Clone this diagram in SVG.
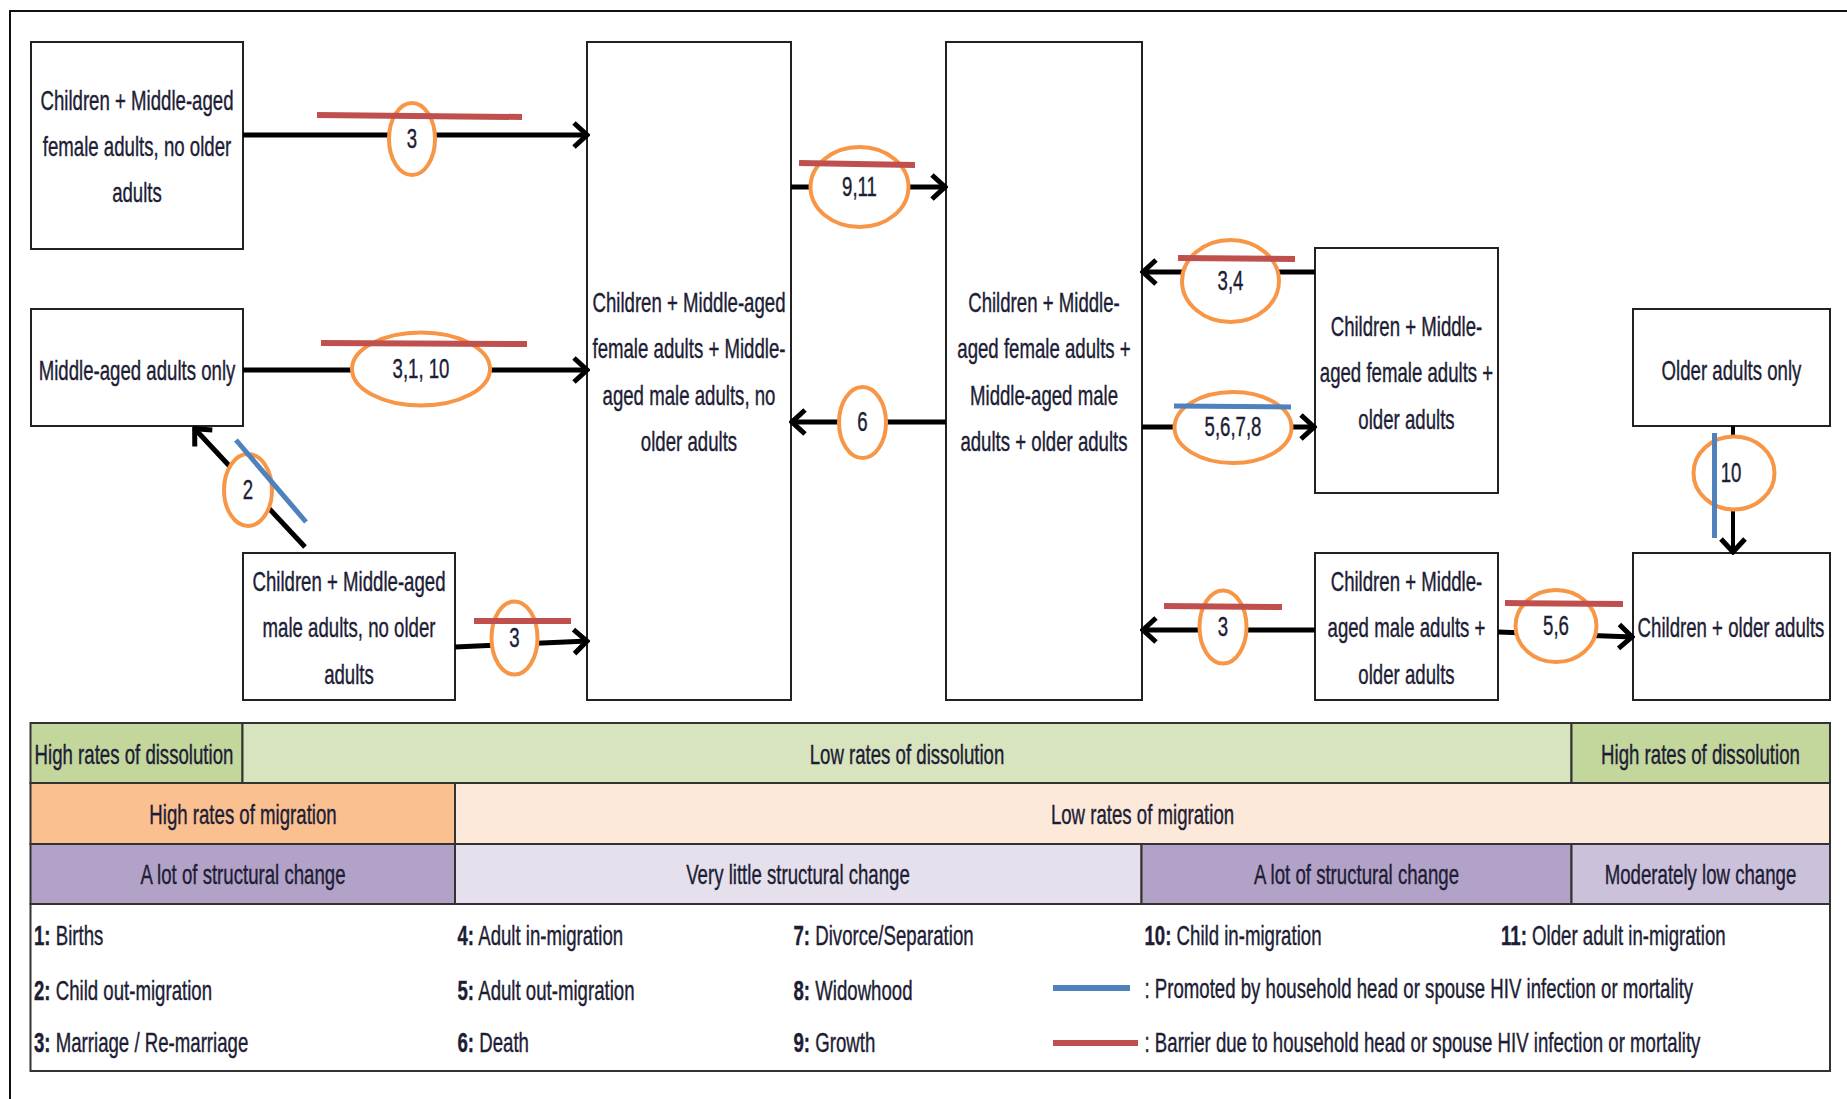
<svg xmlns="http://www.w3.org/2000/svg" width="1847" height="1099" viewBox="0 0 1847 1099">
  <style>
    .t { font-family: "Liberation Sans", Arial, sans-serif; font-size: 27px; fill: #1d1d35; stroke: #1d1d35; stroke-width: 0.4; }
    .c { text-anchor: middle; }
    .b { font-weight: bold; }
    .box { fill: #ffffff; stroke: #222222; stroke-width: 2; }
    .edge { fill: none; stroke: #000000; stroke-width: 5; marker-end: url(#head); }
    .ring { fill: #ffffff; stroke: #F79646; stroke-width: 4; }
    .bar-red { stroke: #C0504D; stroke-width: 6; }
    .bar-blue { stroke: #4F81BD; stroke-width: 5; }
    .cell { stroke: #333333; stroke-width: 2; }
  </style>
  <defs>
    <marker id="head" viewBox="0 0 20 30" refX="18" refY="15" markerWidth="20" markerHeight="30" markerUnits="userSpaceOnUse" orient="auto">
      <path d="M4,3 L17,15 L4,27" fill="none" stroke="#000000" stroke-width="5"/>
    </marker>
  </defs>

  <rect width="1847" height="1099" fill="#ffffff"/>
  <!-- outer frame: top and left edges -->
  <path d="M10,1099 V11 H1847" fill="none" stroke="#111111" stroke-width="2"/>

  <!-- household-type nodes -->
  <g id="node-cmf-no-older">
    <rect class="box" x="31" y="42" width="212" height="207"/>
    <text class="t c" transform="translate(137 110) scale(.69 1)"><tspan x="0">Children + Middle-aged</tspan><tspan x="0" dy="46">female adults, no older</tspan><tspan x="0" dy="46">adults</tspan></text>
  </g>
  <g id="node-middle-aged-only">
    <rect class="box" x="31" y="309" width="212" height="117"/>
    <text class="t c" transform="translate(137 380) scale(.69 1)">Middle-aged adults only</text>
  </g>
  <g id="node-cmm-no-older">
    <rect class="box" x="243" y="553" width="212" height="147"/>
    <text class="t c" transform="translate(349 591) scale(.69 1)"><tspan x="0">Children + Middle-aged</tspan><tspan x="0" dy="46.5">male adults, no older</tspan><tspan x="0" dy="46.5">adults</tspan></text>
  </g>
  <g id="node-cmfm-no-older">
    <rect class="box" x="587" y="42" width="204" height="658"/>
    <text class="t c" transform="translate(689 312) scale(.69 1)"><tspan x="0">Children + Middle-aged</tspan><tspan x="0" dy="46.5">female adults + Middle-</tspan><tspan x="0" dy="46.5">aged male adults, no</tspan><tspan x="0" dy="46.5">older adults</tspan></text>
  </g>
  <g id="node-cmfm-older">
    <rect class="box" x="946" y="42" width="196" height="658"/>
    <text class="t c" transform="translate(1044 312) scale(.69 1)"><tspan x="0">Children + Middle-</tspan><tspan x="0" dy="46.5">aged female adults +</tspan><tspan x="0" dy="46.5">Middle-aged male</tspan><tspan x="0" dy="46.5">adults + older adults</tspan></text>
  </g>
  <g id="node-cmf-older">
    <rect class="box" x="1315" y="248" width="183" height="245"/>
    <text class="t c" transform="translate(1406.5 336) scale(.69 1)"><tspan x="0">Children + Middle-</tspan><tspan x="0" dy="46.5">aged female adults +</tspan><tspan x="0" dy="46.5">older adults</tspan></text>
  </g>
  <g id="node-cmm-older">
    <rect class="box" x="1315" y="553" width="183" height="147"/>
    <text class="t c" transform="translate(1406.5 591) scale(.69 1)"><tspan x="0">Children + Middle-</tspan><tspan x="0" dy="46.5">aged male adults +</tspan><tspan x="0" dy="46.5">older adults</tspan></text>
  </g>
  <g id="node-older-only">
    <rect class="box" x="1633" y="309" width="197" height="117"/>
    <text class="t c" transform="translate(1731.5 380) scale(.69 1)">Older adults only</text>
  </g>
  <g id="node-children-older">
    <rect class="box" x="1633" y="553" width="197" height="147"/>
    <text class="t c" transform="translate(1731 637) scale(.69 1)">Children +  older adults</text>
  </g>

  <!-- transitions between household types -->
  <g id="connectors">
    <line class="edge" x1="243" y1="135" x2="588" y2="135"/>
    <line class="edge" x1="243" y1="370" x2="588" y2="370"/>
    <line class="edge" x1="455" y1="647" x2="588" y2="641"/>
    <line class="edge" x1="305" y1="547" x2="194" y2="428"/>
    <line class="edge" x1="791" y1="187" x2="946" y2="187"/>
    <line class="edge" x1="946" y1="422" x2="791" y2="422"/>
    <line class="edge" x1="1315" y1="272" x2="1142" y2="272"/>
    <line class="edge" x1="1142" y1="427" x2="1315" y2="427"/>
    <line class="edge" x1="1315" y1="630" x2="1142" y2="630"/>
    <line class="edge" x1="1498" y1="632" x2="1633" y2="637"/>
    <line class="edge" x1="1733" y1="426" x2="1733" y2="553" style="stroke-width:4"/>

    <ellipse class="ring" cx="412" cy="139" rx="23" ry="36"/>
    <ellipse class="ring" cx="421" cy="369" rx="69" ry="36.5"/>
    <ellipse class="ring" cx="514.5" cy="638" rx="23" ry="36.5"/>
    <ellipse class="ring" cx="248" cy="490" rx="24" ry="36"/>
    <ellipse class="ring" cx="859.5" cy="187" rx="49" ry="40"/>
    <ellipse class="ring" cx="862.5" cy="422.5" rx="23.5" ry="35.5"/>
    <ellipse class="ring" cx="1230.5" cy="281" rx="48.5" ry="41"/>
    <ellipse class="ring" cx="1233" cy="427.5" rx="58.5" ry="35.5"/>
    <ellipse class="ring" cx="1223" cy="627" rx="23.5" ry="36.5"/>
    <ellipse class="ring" cx="1556" cy="626" rx="40.5" ry="36"/>
    <ellipse class="ring" cx="1734" cy="473" rx="40.5" ry="36.5"/>

    <text class="t c" transform="translate(412 148) scale(.69 1)">3</text>
    <text class="t c" transform="translate(421 378) scale(.69 1)">3,1, 10</text>
    <text class="t c" transform="translate(514.5 647) scale(.69 1)">3</text>
    <text class="t c" transform="translate(248 499) scale(.69 1)">2</text>
    <text class="t c" transform="translate(859.5 196) scale(.69 1)">9,11</text>
    <text class="t c" transform="translate(862.5 431) scale(.69 1)">6</text>
    <text class="t c" transform="translate(1230.5 290) scale(.69 1)">3,4</text>
    <text class="t c" transform="translate(1233 436) scale(.69 1)">5,6,7,8</text>
    <text class="t c" transform="translate(1223 636) scale(.69 1)">3</text>
    <text class="t c" transform="translate(1556 635) scale(.69 1)">5,6</text>
    <text class="t c" transform="translate(1731 482) scale(.69 1)">10</text>

    <line class="bar-red" x1="317" y1="115" x2="522" y2="117"/>
    <line class="bar-red" x1="321" y1="343" x2="527" y2="344"/>
    <line class="bar-red" x1="474" y1="621" x2="571" y2="621"/>
    <line class="bar-blue" x1="236" y1="440" x2="306" y2="522"/>
    <line class="bar-red" x1="799" y1="163" x2="915" y2="165"/>
    <line class="bar-red" x1="1178" y1="258" x2="1295" y2="259"/>
    <line class="bar-blue" x1="1174" y1="406" x2="1291" y2="407"/>
    <line class="bar-red" x1="1164" y1="606" x2="1282" y2="607"/>
    <line class="bar-red" x1="1505" y1="603" x2="1623" y2="604"/>
    <line class="bar-blue" x1="1714.5" y1="433" x2="1714.5" y2="538"/>
  </g>

  <!-- summary table -->
  <g id="table">
    <rect class="cell" x="30.5" y="723" width="212" height="60" fill="#C3D69B"/>
    <rect class="cell" x="242.5" y="723" width="1329" height="60" fill="#D7E4BD"/>
    <rect class="cell" x="1571.5" y="723" width="258.5" height="60" fill="#C3D69B"/>
    <rect class="cell" x="30.5" y="783" width="424.5" height="61" fill="#FAC090"/>
    <rect class="cell" x="455" y="783" width="1375" height="61" fill="#FDE9D9"/>
    <rect class="cell" x="30.5" y="844" width="424.5" height="60" fill="#B3A2C7"/>
    <rect class="cell" x="455" y="844" width="686.5" height="60" fill="#E6E0EC"/>
    <rect class="cell" x="1141.5" y="844" width="430" height="60" fill="#B3A2C7"/>
    <rect class="cell" x="1571.5" y="844" width="258.5" height="60" fill="#CCC1DA"/>
    <rect class="cell" x="30.5" y="904" width="1799.5" height="167" fill="#ffffff"/>

    <text class="t c" transform="translate(134 764) scale(.69 1)">High rates of dissolution</text>
    <text class="t c" transform="translate(907 764) scale(.69 1)">Low rates of dissolution</text>
    <text class="t c" transform="translate(1700.5 764) scale(.69 1)">High rates of dissolution</text>
    <text class="t c" transform="translate(243 824) scale(.69 1)">High rates of migration</text>
    <text class="t c" transform="translate(1142.5 824) scale(.69 1)">Low rates of migration</text>
    <text class="t c" transform="translate(243 884) scale(.69 1)">A lot of structural change</text>
    <text class="t c" transform="translate(798 884) scale(.69 1)">Very little structural change</text>
    <text class="t c" transform="translate(1356.5 884) scale(.69 1)">A lot of structural change</text>
    <text class="t c" transform="translate(1700.5 884) scale(.69 1)">Moderately low change</text>
  </g>

  <!-- legend -->
  <g id="legend">
    <text class="t" transform="translate(34 945) scale(.69 1)"><tspan class="b">1:</tspan> Births</text>
    <text class="t" transform="translate(34 1000) scale(.69 1)"><tspan class="b">2:</tspan> Child out-migration</text>
    <text class="t" transform="translate(34 1052) scale(.69 1)"><tspan class="b">3:</tspan> Marriage / Re-marriage</text>
    <text class="t" transform="translate(457.5 945) scale(.69 1)"><tspan class="b">4:</tspan> Adult in-migration</text>
    <text class="t" transform="translate(457.5 1000) scale(.69 1)"><tspan class="b">5:</tspan> Adult out-migration</text>
    <text class="t" transform="translate(457.5 1052) scale(.69 1)"><tspan class="b">6:</tspan> Death</text>
    <text class="t" transform="translate(793.5 945) scale(.69 1)"><tspan class="b">7:</tspan> Divorce/Separation</text>
    <text class="t" transform="translate(793.5 1000) scale(.69 1)"><tspan class="b">8:</tspan> Widowhood</text>
    <text class="t" transform="translate(793.5 1052) scale(.69 1)"><tspan class="b">9:</tspan> Growth</text>
    <text class="t" transform="translate(1144.5 945) scale(.69 1)"><tspan class="b">10:</tspan> Child in-migration</text>
    <text class="t" transform="translate(1501 945) scale(.69 1)"><tspan class="b">11:</tspan> Older adult in-migration</text>
    <line class="bar-blue" x1="1053" y1="988" x2="1130" y2="988" style="stroke-width:6"/>
    <line class="bar-red" x1="1053" y1="1043" x2="1138" y2="1043"/>
    <text class="t" transform="translate(1144.5 998) scale(.69 1)">: Promoted by household head or spouse HIV infection or mortality</text>
    <text class="t" transform="translate(1144.5 1052) scale(.69 1)">: Barrier due to household head or spouse HIV infection or mortality</text>
  </g>
</svg>
